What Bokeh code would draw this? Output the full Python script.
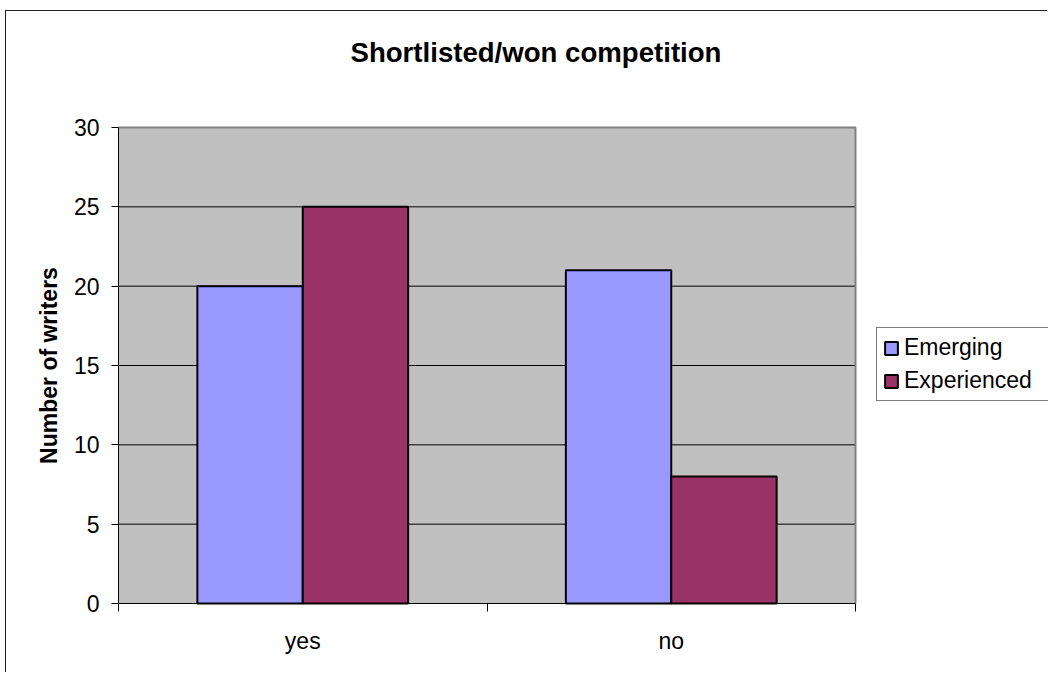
import numpy as np
from bokeh.plotting import figure
from bokeh.models import (ColumnDataSource, Range1d, FixedTicker, Legend, LegendItem, Label)
from bokeh.embed import file_html
from bokeh.resources import INLINE

# ---- data ----
categories = ["yes", "no"]
emerging = [20, 21]
experienced = [25, 8]
series_names = ["Emerging", "Experienced"]
y_ticks = [0, 5, 10, 15, 20, 25, 30]
title_text = "Shortlisted/won competition"
y_title = "Number of writers"

FONT = "Liberation Sans"
n = len(categories)
ymax = y_ticks[-1]
xc = np.arange(n) + 0.5
bar_w = 0.286
src = ColumnDataSource(dict(
    x_em=xc - bar_w / 2, x_ex=xc + bar_w / 2,
    emerging=emerging, experienced=experienced))

# layout: the frame fills the figure; grey plot area placed in pixels
W, H = 1042, 662
AL, AT, AR, AB = 112, 116, 849, 592     # plot-area edges inside the figure
sx = n / (AR - AL)                       # data units per pixel (x)
sy = ymax / (AB - AT)                    # data units per pixel (y)
x_rng = Range1d(-AL * sx, n + (W - AR) * sx)
y_rng = Range1d(-(H - AB) * sy, ymax + AT * sy)

p = figure(width=W, height=H, output_backend="svg", toolbar_location=None,
           x_range=x_rng, y_range=y_rng,
           min_border_left=0, min_border_right=0, min_border_top=0,
           min_border_bottom=0)
p.styles = {"margin-left": "6px", "margin-top": "11px",
            "box-shadow": "-1px -1px 0 0 #202020"}

p.background_fill_color = "white"
p.border_fill_color = "white"
p.outline_line_color = None

# grey plot area, grid and border drawn from the data extents
p.quad(left=[0], right=[n], bottom=[0], top=[ymax],
       fill_color="#C0C0C0", line_color=None)
grid_y = y_ticks[1:-1]
p.segment(x0=[0] * len(grid_y), x1=[n] * len(grid_y), y0=grid_y, y1=grid_y,
          line_color="black", line_width=1)
p.line(x=[0, n, n], y=[ymax, ymax, 0], line_color="#808080", line_width=2)

r1 = p.vbar(x="x_em", top="emerging", width=bar_w, source=src,
            fill_color="#9999FF", line_color="black", line_width=2)
r2 = p.vbar(x="x_ex", top="experienced", width=bar_w, source=src,
            fill_color="#993366", line_color="black", line_width=2)

p.xgrid.visible = False
p.ygrid.visible = False

# y axis
ya = p.yaxis[0]
ya.fixed_location = 0
ya.bounds = (0, ymax)
ya.ticker = FixedTicker(ticks=y_ticks, minor_ticks=[])
ya.axis_line_color = "black"
ya.major_tick_in = 0
ya.major_tick_out = 7
ya.major_tick_line_color = "black"
ya.major_label_text_font = FONT
ya.major_label_text_font_size = "23px"
ya.major_label_text_color = "black"
ya.major_label_standoff = 12

# x axis
xa = p.xaxis[0]
xa.fixed_location = 0
xa.bounds = (0, n)
xa.ticker = FixedTicker(ticks=list(xc), minor_ticks=list(range(n + 1)))
xa.major_label_overrides = {float(x): c for x, c in zip(xc, categories)}
xa.axis_line_color = "black"
xa.major_tick_in = 0
xa.major_tick_out = 0
xa.minor_tick_in = 0
xa.minor_tick_out = 8
xa.minor_tick_line_color = "black"
xa.major_label_text_font = FONT
xa.major_label_text_font_size = "23px"
xa.major_label_text_color = "black"
xa.major_label_standoff = 16

# chart title and y-axis title
p.add_layout(Label(x=344, y=H - 41, x_units="screen", y_units="screen",
                   text=title_text, text_font=FONT, text_font_size="27.6px",
                   text_font_style="bold", text_color="black",
                   text_baseline="middle", text_align="left"))
p.add_layout(Label(x=42, y=ymax / 2, x_units="screen", y_units="data",
                   angle=np.pi / 2, text=y_title, text_font=FONT,
                   text_font_size="23px", text_font_style="bold",
                   text_color="black", text_baseline="middle",
                   text_align="center"))

legend = Legend(items=[LegendItem(label=series_names[0], renderers=[r1]),
                       LegendItem(label=series_names[1], renderers=[r2])],
                location=(870, H - 390))
legend.border_line_color = "black"
legend.border_line_width = 1
legend.background_fill_color = "white"
legend.background_fill_alpha = 1
legend.label_text_font = FONT
legend.label_text_font_size = "23px"
legend.label_text_color = "black"
legend.glyph_width = 16
legend.glyph_height = 16
legend.label_standoff = 5
legend.label_width = 200
legend.padding = 6
legend.spacing = 6
legend.margin = 0
p.add_layout(legend, "center")

open("out.html", "w").write(file_html(p, INLINE))
